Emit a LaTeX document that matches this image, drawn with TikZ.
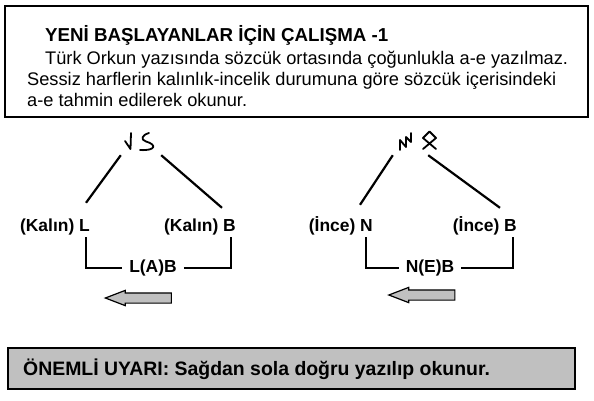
\documentclass[tikz,border=0pt]{standalone}
\usepackage{fontspec}
\setmainfont{Liberation Sans}
\usetikzlibrary{shapes.arrows}
\definecolor{kutugri}{RGB}{192,192,192}
\tikzset{
  satir/.style={anchor=base west, inner sep=0pt, font=\fontsize{18.3}{21}\selectfont},
  etiket/.style={anchor=base east, inner sep=0pt, text height=12.5bp, text depth=3.5bp,
    font=\fontsize{17.5}{17.5}\selectfont\bfseries},
  kelime/.style={etiket, anchor=center, inner xsep=7bp},
  harfler/.style={minimum width=40bp, minimum height=26bp, inner sep=0pt},
  harf/.style={line width=1.8bp, line cap=round, line join=round},
  dal/.style={line width=2.2bp},
  yon/.style={single arrow, shape border rotate=180, draw, line width=1.2bp, fill=kutugri,
    minimum height=66bp, inner sep=4.5bp, single arrow head extend=2.5bp, single arrow tip angle=42},
}
\begin{document}
\begin{tikzpicture}[x=1bp, y=-1bp]
    \useasboundingbox (0,0) rectangle (594,400);
    % top box
    \draw[line width=1.3bp] (5,6) rectangle (588,117);
    \node[satir, font=\fontsize{18.8}{21}\selectfont\bfseries] (baslik) at (45,41) {YENİ BAŞLAYANLAR İÇİN ÇALIŞMA -1};
    \node[satir] (s1) at (45,64) {Türk Orkun yazısında sözcük ortasında çoğunlukla a-e yazılmaz.};
    \node[satir] (s2) at (27,85) {Sessiz harflerin kalınlık-incelik durumuna göre sözcük içerisindeki};
    \node[satir] (s3) at (27,106) {a-e tahmin edilerek okunur.};

    % left word
    \node[harfler] (gl) at (141,142) {};
    \draw[harf] (125,141) -- (130.5,149) -- (131,133);
    \draw[harf] (149,133) .. controls (142,135) and (140,139.5) .. (146,141.5)
        .. controls (157,144.5) and (156,151) .. (140,150);
    \node[etiket] (kl) at (90,231) {(Kalın) L};
    \node[etiket] (kb) at (236,231) {(Kalın) B};
    \node[kelime] (lab) at (153,268) {L(A)B};
    \draw[dal] (gl.south west) -- ([xshift=-4bp,yshift=15.5bp]kl.north east);
    \draw[dal] (gl.south east) -- ([xshift=-14bp,yshift=10.5bp]kb.north east);
    \draw[dal] ([xshift=-4bp,yshift=-2.5bp]kl.south east) |- (lab.west);
    \draw[dal] (lab.east) -| ([xshift=-5bp,yshift=-2.5bp]kb.south east);
    \node[yon] (okL) at (145,298) {};

    % right word
    \node[harfler, minimum width=35bp, minimum height=28bp] (gr) at (410.5,141) {};
    \draw[harf] (400,150) -- (400,140) -- (406,147) -- (406,137) -- (411,142) -- (411,133);
    \draw[harf] (423,149) -- (436,138) -- (429.5,131.5) -- (423,138) -- (436,149);
    \node[etiket] (in) at (373,231) {(İnce) N};
    \node[etiket] (ib) at (517,231) {(İnce) B};
    \node[kelime] (neb) at (430,268) {N(E)B};
    \draw[dal] (gr.south west) -- ([xshift=-13bp,yshift=13.5bp]in.north east);
    \draw[dal] (gr.south east) -- ([xshift=-17bp,yshift=10.5bp]ib.north east);
    \draw[dal] ([xshift=-7bp,yshift=-2.5bp]in.south east) |- (neb.west);
    \draw[dal] (neb.east) -| ([xshift=-4bp,yshift=-2.5bp]ib.south east);
    \node[yon] (okR) at (428.5,295) {};

    % bottom box
    \draw[line width=1.3bp, fill=kutugri] (8,348) rectangle (575,389);
    \node[satir, font=\fontsize{19.5}{21}\selectfont\bfseries] (uyari) at (23,375) {ÖNEMLİ UYARI: Sağdan sola doğru yazılıp okunur.};
\end{tikzpicture}
\end{document}
